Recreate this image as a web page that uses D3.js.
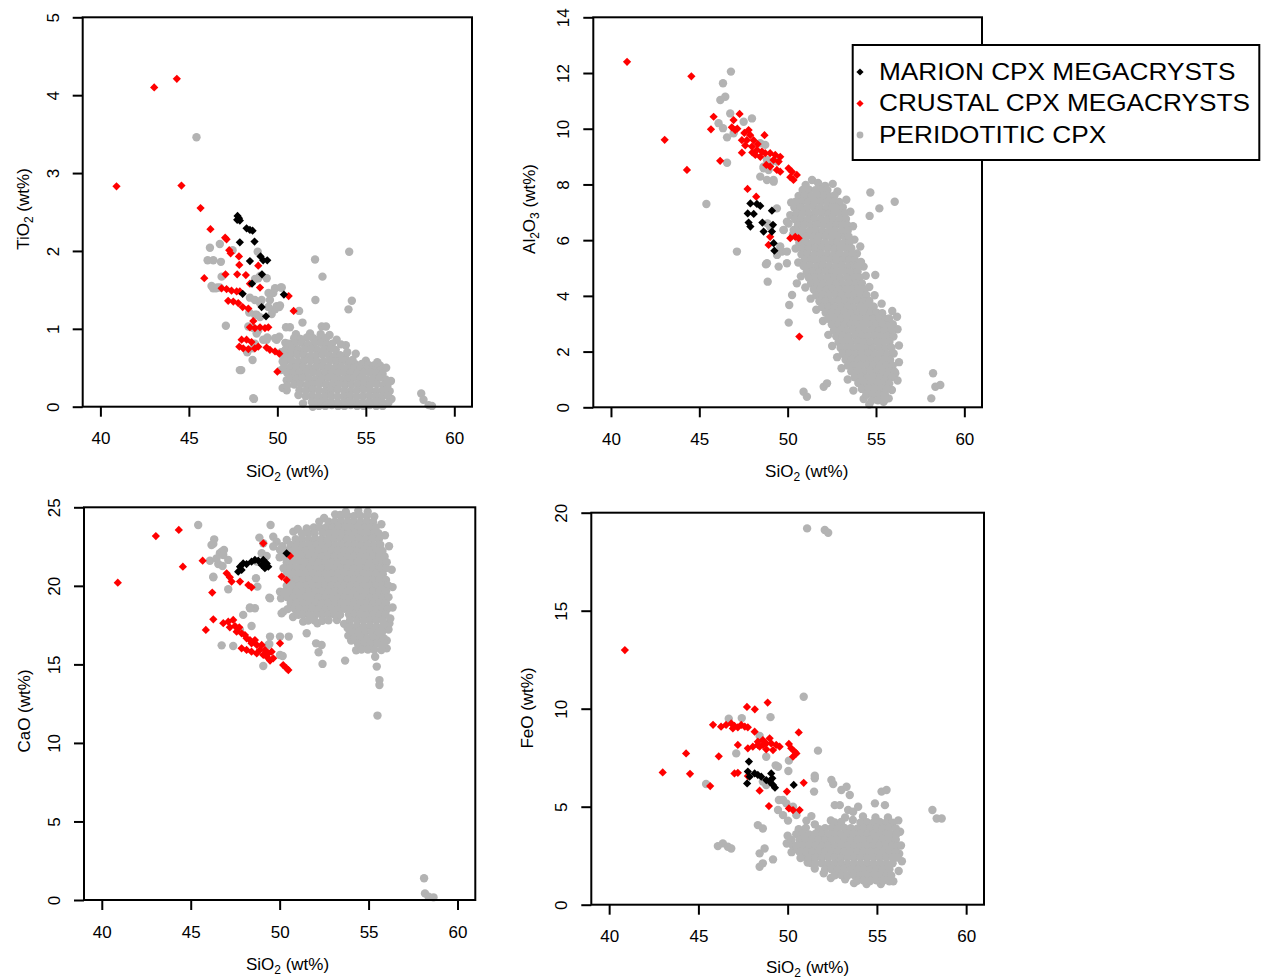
<!DOCTYPE html>
<html>
<head>
<meta charset="utf-8">
<script src="https://cdn.jsdelivr.net/npm/d3@7"></script>
<style>
  body { margin: 0; background: #fff; }
  svg { display: block; }
  text { font-family: "Liberation Sans", Arial, Helvetica, sans-serif; fill: #000; }
</style>
</head>
<body>
<svg id="chart" width="1263" height="979"></svg>
<script>
// ---- tick values ----
const sio2Ticks = [40, 45, 50, 55, 60];
const tiTicks = [0, 1, 2, 3, 4, 5];
const alTicks = [0, 2, 4, 6, 8, 10, 12, 14];
const caTicks = [0, 5, 10, 15, 20, 25];
const feTicks = [0, 5, 10, 15, 20];

// ---- axis titles (text, subscript flag) ----
const sio2Label = [["SiO", 0], ["2", 1], [" (wt%)", 0]];
const tiLabel = [["TiO", 0], ["2", 1], [" (wt%)", 0]];
const alLabel = [["Al", 0], ["2", 1], ["O", 0], ["3", 1], [" (wt%)", 0]];
const caLabel = [["CaO (wt%)", 0]];
const feLabel = [["FeO (wt%)", 0]];

// ---- legend ----
const seriesNames = ["MARION CPX MEGACRYSTS", "CRUSTAL CPX MEGACRYSTS", "PERIDOTITIC CPX"];

// ---- TiO2 vs SiO2 (wt%) ----
const tiMarion = [[47.75,2.45],[47.83,2.42],[47.73,2.40],[47.88,2.39],[48.26,2.29],[48.45,2.27],[48.60,2.26],[47.88,2.11],[48.71,2.12],[48.45,1.87],[49.05,1.93],[49.20,1.88],[49.43,1.88],[49.13,1.70],[48.57,1.58],[48.04,1.45],[50.37,1.44],[49.11,1.28],[49.36,1.16]];
const tiCrustal = [[40.91,2.83],[43.04,4.10],[44.32,4.21],[44.58,2.84],[45.66,2.55],[46.22,2.28],[45.87,1.65],[47.05,2.17],[47.13,2.15],[47.28,2.01],[47.36,1.97],[47.83,1.93],[47.85,1.82],[48.92,1.81],[47.07,1.70],[47.73,1.70],[48.22,1.69],[48.45,1.58],[49.02,1.53],[46.85,1.52],[47.13,1.51],[47.41,1.49],[47.70,1.48],[47.88,1.48],[47.22,1.36],[47.51,1.35],[47.79,1.33],[48.04,1.28],[48.36,1.26],[50.92,1.23],[50.64,1.42],[48.45,1.02],[48.73,1.01],[49.02,1.02],[49.30,1.01],[49.49,1.02],[48.64,1.10],[47.98,0.86],[48.26,0.86],[48.54,0.83],[47.85,0.77],[48.07,0.75],[48.36,0.74],[48.73,0.75],[48.92,0.77],[49.39,0.76],[49.58,0.73],[49.87,0.71],[50.11,0.68],[50.00,0.45]];
const tiPeridotitic = [
  [45.43,3.46],[46.19,2.04],[46.75,2.09],[46.06,1.88],[46.38,1.88],[46.81,1.86],[47.47,2.01],[46.28,1.55],[46.53,1.52],[46.75,1.53],[46.85,1.67],[47.09,1.04],[47.96,0.47],[48.68,0.10],[48.60,0.60],[48.30,0.70],[48.89,1.99],[48.92,1.65],[48.74,1.64],[49.40,1.65],[49.50,1.46],[49.77,1.46],[49.87,1.52],[50.25,1.53],[49.96,1.29],[50.15,1.30],[49.68,1.19],[48.83,1.18],[48.64,1.01],[48.92,0.98],[49.20,0.86],[49.40,0.86],[49.96,0.86],[51.23,1.23],[51.42,1.08],[52.13,1.89],[52.15,1.37],[52.55,1.67],[52.51,1.03],[52.75,1.03],[54.06,1.99],[54.02,1.25],[54.21,1.36],[53.87,0.79],[54.43,0.68],[58.13,0.17],[58.26,0.09],[58.55,0.02],[58.74,0.01],[50.30,0.24],[50.53,0.21],[50.53,0.34],[51.19,0.15],[48.64,0.11],[47.88,0.47],
  [46.37,1.52],[46.60,1.53],[48.41,1.21],[48.73,1.18],[49.02,1.15],[49.87,1.25],[50.11,1.28],[49.58,1.37],[49.49,1.28],[50.19,1.53],[48.83,0.94],[49.43,0.89],[49.87,0.88],[50.11,0.90],[48.73,0.81],[48.64,0.75],[48.30,0.71],[50.49,1.02],[50.71,1.02],[48.45,1.40],[48.73,1.37],[49.02,1.33],[49.11,1.37],[49.02,1.68],[48.36,1.03],[50.71,0.68],[50.53,0.64],[50.34,0.64],
  [53.60,0.80],[53.85,0.62],[50.30,0.58],[56.35,0.20],[55.80,0.53],[50.45,0.82],
  [51.05,0.93],[51.85,0.94],[52.45,0.93],[52.95,0.92],[53.35,0.86],[53.95,0.70],[54.25,0.60],[55.00,0.59],[55.65,0.57],[56.15,0.50],[56.42,0.33],[56.45,0.10],[50.22,0.70],[50.20,0.47],[50.55,0.27],[51.45,0.04],[52.00,0.00],
  [50.95,0.88],[51.31,0.87],[51.67,0.89],[52.03,0.88],[52.39,0.87],[52.75,0.88],
  [50.65,0.81],[51.01,0.81],[51.37,0.82],[51.73,0.80],[52.09,0.81],[52.45,0.82],[52.81,0.80],[53.10,0.81],
  [50.47,0.735],[50.83,0.74],[51.19,0.73],[51.55,0.735],[51.91,0.74],[52.27,0.73],[52.63,0.735],[52.99,0.74],[53.30,0.73],
  [50.40,0.66],[50.76,0.66],[51.12,0.67],[51.48,0.66],[51.84,0.65],[52.20,0.66],[52.56,0.67],[52.92,0.66],[53.28,0.65],[53.55,0.66],
  [50.45,0.585],[50.81,0.59],[51.17,0.58],[51.53,0.585],[51.89,0.59],[52.25,0.58],[52.61,0.585],[52.97,0.59],[53.33,0.58],[53.69,0.585],[54.05,0.55],[54.41,0.545],[54.77,0.55],[55.13,0.54],[55.45,0.53],
  [50.38,0.51],[50.74,0.51],[51.10,0.52],[51.46,0.51],[51.82,0.50],[52.18,0.51],[52.54,0.52],[52.90,0.51],[53.26,0.50],[53.62,0.51],[53.98,0.49],[54.34,0.50],[54.70,0.49],[55.06,0.48],[55.42,0.47],[55.78,0.46],
  [50.55,0.435],[50.91,0.44],[51.27,0.43],[51.63,0.435],[51.99,0.44],[52.35,0.43],[52.71,0.435],[53.07,0.44],[53.43,0.43],[53.79,0.435],[54.15,0.44],[54.51,0.43],[54.87,0.435],[55.23,0.44],[55.59,0.43],[55.95,0.42],
  [50.72,0.36],[51.08,0.36],[51.44,0.37],[51.80,0.36],[52.16,0.35],[52.52,0.36],[52.88,0.37],[53.24,0.36],[53.60,0.35],[53.96,0.36],[54.32,0.37],[54.68,0.36],[55.04,0.35],[55.40,0.36],[55.76,0.37],[56.12,0.35],
  [50.95,0.285],[51.31,0.29],[51.67,0.28],[52.03,0.285],[52.39,0.29],[52.75,0.28],[53.11,0.285],[53.47,0.29],[53.83,0.28],[54.19,0.285],[54.55,0.29],[54.91,0.28],[55.27,0.285],[55.63,0.29],[55.99,0.28],[56.22,0.27],
  [51.25,0.21],[51.61,0.21],[51.97,0.22],[52.33,0.21],[52.69,0.20],[53.05,0.21],[53.41,0.22],[53.77,0.21],[54.13,0.20],[54.49,0.21],[54.85,0.22],[55.21,0.21],[55.57,0.20],[55.93,0.21],[56.20,0.22],
  [51.60,0.135],[51.96,0.14],[52.32,0.13],[52.68,0.135],[53.04,0.14],[53.40,0.13],[53.76,0.135],[54.12,0.14],[54.48,0.13],[54.84,0.135],[55.20,0.14],[55.56,0.13],[55.92,0.135],[56.25,0.14],
  [51.95,0.06],[52.31,0.06],[52.67,0.07],[53.03,0.06],[53.39,0.05],[53.75,0.06],[54.11,0.07],[54.47,0.06],[54.83,0.05],[55.19,0.06],[55.55,0.07],[55.91,0.06],[56.28,0.05],
  [52.35,0.01],[52.71,0.01],[53.07,0.02],[53.43,0.01],[53.79,0.01],[54.15,0.02],[54.51,0.01],[54.87,0.01],[55.23,0.02],[55.59,0.01],[55.95,0.01]
];

// ---- Al2O3 vs SiO2 (wt%) ----
const alMarion = [[47.89,7.32],[48.26,7.30],[48.45,7.23],[47.74,6.96],[48.08,6.94],[49.11,7.06],[47.79,6.63],[47.89,6.49],[48.57,6.63],[48.64,6.31],[49.11,6.31],[49.17,6.55],[49.21,5.89],[49.25,5.62]];
const alCrustal = [[40.91,12.40],[44.55,11.88],[43.04,9.60],[44.30,8.52],[45.81,10.43],[45.66,9.98],[46.18,8.85],[46.94,10.31],[47.28,10.53],[46.84,10.05],[47.03,9.95],[47.41,9.14],[47.79,9.95],[47.88,9.77],[48.07,9.59],[47.69,9.59],[47.41,9.59],[47.98,9.36],[48.26,9.24],[48.54,9.18],[48.17,9.06],[48.45,8.99],[48.73,9.12],[48.69,9.77],[49.01,9.12],[49.30,9.06],[49.58,8.99],[49.20,8.88],[49.49,8.82],[49.39,8.52],[49.58,8.46],[48.79,8.70],[49.01,8.64],[50.05,8.58],[50.24,8.46],[50.52,8.34],[50.33,8.16],[50.15,8.26],[47.15,10.00],[47.55,9.85],[47.60,9.40],[48.30,9.45],[48.00,9.15],[47.73,7.84],[48.22,7.56],[49.01,6.12],[48.92,5.83],[50.15,6.07],[50.43,6.12],[50.62,6.07],[50.66,2.54]];
const alPeridotitic = [
  [46.79,12.05],[46.34,11.63],[46.47,11.15],[46.19,11.03],[46.75,10.55],[46.09,10.20],[46.34,10.02],[46.57,9.69],[46.94,9.84],[47.51,10.25],[47.98,10.37],[46.57,8.78],[45.40,7.30],[47.13,5.59],[48.77,5.13],[48.87,4.51],[48.45,8.28],[48.83,8.16],[49.21,8.10],[48.64,8.64],[49.02,8.76],[49.49,5.05],[49.40,5.47],[49.68,5.59],[49.96,5.17],[50.09,3.67],[50.06,3.04],[50.25,4.03],[50.90,0.56],[51.09,0.38],[52.04,0.74],[52.23,0.86],[58.23,1.22],[58.13,0.32],[58.36,0.74],[58.64,0.80],[54.68,7.71],[55.19,7.14],[56.06,7.38],[54.64,6.87],[54.96,4.75],[56.19,3.25],[55.43,0.20],[49.96,6.66],[50.34,6.37],[49.77,6.37],[51.38,8.16],[52.55,8.02],[54.11,5.77],[54.30,5.05],[54.87,3.61],[56.09,1.22],
  [48.45,9.48],[48.73,9.42],[49.39,8.82],[48.83,8.88],[48.64,8.58],[48.92,8.52],[49.20,8.16],[49.39,7.14],[48.86,6.60],[49.01,6.48],[49.77,6.36],[50.05,6.60],[49.58,5.77],[49.96,5.59],[48.83,5.17],[50.52,4.45],
  [51.02,7.98],[51.72,8.05],[52.12,7.95],[52.82,7.75],[53.32,7.45],[53.55,7.02],[53.70,6.50],[53.78,6.02],[53.92,5.52],[54.15,5.22],[54.42,4.72],[54.62,4.32],[54.92,4.02],[55.32,3.72],[55.92,3.46],[56.22,2.80],[56.30,2.22],[56.30,1.62],[56.22,0.96],[55.90,0.62],[55.72,0.32],[50.20,7.35],[50.15,6.90],[50.30,6.20],[50.45,5.70],[50.60,5.20],[50.75,4.70],[51.00,4.30],[51.30,3.90],[51.62,3.50],[52.00,3.10],[52.30,2.60],[52.52,2.20],[52.80,1.80],[53.05,1.40],[53.40,1.00],[53.72,0.60],[54.30,0.30],[54.62,0.10],
  [50.85,7.80],[51.21,7.81],[51.57,7.79],[51.93,7.82],[52.25,7.80],
  [50.62,7.59],[50.98,7.60],[51.34,7.58],[51.70,7.61],[52.06,7.59],[52.42,7.57],[52.65,7.60],
  [50.45,7.38],[50.81,7.39],[51.17,7.37],[51.53,7.40],[51.89,7.38],[52.25,7.36],[52.61,7.39],[52.92,7.37],
  [50.38,7.17],[50.74,7.18],[51.10,7.16],[51.46,7.19],[51.82,7.17],[52.18,7.15],[52.54,7.18],[52.90,7.16],[53.12,7.18],
  [50.50,6.96],[50.86,6.97],[51.22,6.95],[51.58,6.98],[51.94,6.96],[52.30,6.94],[52.66,6.97],[53.02,6.95],[53.25,6.97],
  [50.42,6.75],[50.78,6.76],[51.14,6.74],[51.50,6.77],[51.86,6.75],[52.22,6.73],[52.58,6.76],[52.94,6.74],[53.30,6.76],
  [50.58,6.54],[50.94,6.55],[51.30,6.53],[51.66,6.56],[52.02,6.54],[52.38,6.52],[52.74,6.55],[53.10,6.53],[53.36,6.55],
  [50.52,6.33],[50.88,6.34],[51.24,6.32],[51.60,6.35],[51.96,6.33],[52.32,6.31],[52.68,6.34],[53.04,6.32],[53.40,6.34],
  [50.72,6.12],[51.08,6.13],[51.44,6.11],[51.80,6.14],[52.16,6.12],[52.52,6.10],[52.88,6.13],[53.24,6.11],[53.45,6.13],
  [50.66,5.91],[51.02,5.92],[51.38,5.90],[51.74,5.93],[52.10,5.91],[52.46,5.89],[52.82,5.92],[53.18,5.90],[53.50,5.92],
  [50.84,5.70],[51.20,5.71],[51.56,5.69],[51.92,5.72],[52.28,5.70],[52.64,5.68],[53.00,5.71],[53.36,5.69],[53.60,5.71],
  [50.78,5.49],[51.14,5.50],[51.50,5.48],[51.86,5.51],[52.22,5.49],[52.58,5.47],[52.94,5.50],[53.30,5.48],[53.66,5.50],
  [50.96,5.28],[51.32,5.29],[51.68,5.27],[52.04,5.30],[52.40,5.28],[52.76,5.26],[53.12,5.29],[53.48,5.27],[53.80,5.29],
  [50.90,5.07],[51.26,5.08],[51.62,5.06],[51.98,5.09],[52.34,5.07],[52.70,5.05],[53.06,5.08],[53.42,5.06],[53.78,5.08],[53.95,5.06],
  [51.08,4.86],[51.44,4.87],[51.80,4.85],[52.16,4.88],[52.52,4.86],[52.88,4.84],[53.24,4.87],[53.60,4.85],[53.96,4.87],
  [51.20,4.65],[51.56,4.66],[51.92,4.64],[52.28,4.67],[52.64,4.65],[53.00,4.63],[53.36,4.66],[53.72,4.64],[54.08,4.66],
  [51.32,4.44],[51.68,4.45],[52.04,4.43],[52.40,4.46],[52.76,4.44],[53.12,4.42],[53.48,4.45],[53.84,4.43],[54.20,4.45],
  [51.48,4.23],[51.84,4.24],[52.20,4.22],[52.56,4.25],[52.92,4.23],[53.28,4.21],[53.64,4.24],[54.00,4.22],[54.32,4.24],
  [51.62,4.02],[51.98,4.03],[52.34,4.01],[52.70,4.04],[53.06,4.02],[53.42,4.00],[53.78,4.03],[54.14,4.01],[54.45,4.03],
  [51.80,3.81],[52.16,3.82],[52.52,3.80],[52.88,3.83],[53.24,3.81],[53.60,3.79],[53.96,3.82],[54.32,3.80],[54.62,3.82],
  [51.95,3.60],[52.31,3.61],[52.67,3.59],[53.03,3.62],[53.39,3.60],[53.75,3.58],[54.11,3.61],[54.47,3.59],[54.83,3.61],
  [52.15,3.39],[52.51,3.40],[52.87,3.38],[53.23,3.41],[53.59,3.39],[53.95,3.37],[54.31,3.40],[54.67,3.38],[55.03,3.40],[55.35,3.38],
  [52.30,3.18],[52.66,3.19],[53.02,3.17],[53.38,3.20],[53.74,3.18],[54.10,3.16],[54.46,3.19],[54.82,3.17],[55.18,3.19],[55.54,3.17],[55.75,3.19],
  [52.50,2.97],[52.86,2.98],[53.22,2.96],[53.58,2.99],[53.94,2.97],[54.30,2.95],[54.66,2.98],[55.02,2.96],[55.38,2.98],[55.74,2.96],[55.95,2.98],
  [52.62,2.76],[52.98,2.77],[53.34,2.75],[53.70,2.78],[54.06,2.76],[54.42,2.74],[54.78,2.77],[55.14,2.75],[55.50,2.77],[55.86,2.75],
  [52.75,2.55],[53.11,2.56],[53.47,2.54],[53.83,2.57],[54.19,2.55],[54.55,2.53],[54.91,2.56],[55.27,2.54],[55.63,2.56],[55.99,2.54],
  [52.88,2.34],[53.24,2.35],[53.60,2.33],[53.96,2.36],[54.32,2.34],[54.68,2.32],[55.04,2.35],[55.40,2.33],[55.76,2.35],
  [53.00,2.13],[53.36,2.14],[53.72,2.12],[54.08,2.15],[54.44,2.13],[54.80,2.11],[55.16,2.14],[55.52,2.12],[55.88,2.14],
  [53.12,1.92],[53.48,1.93],[53.84,1.91],[54.20,1.94],[54.56,1.92],[54.92,1.90],[55.28,1.93],[55.64,1.91],[56.00,1.93],
  [53.28,1.71],[53.64,1.72],[54.00,1.70],[54.36,1.73],[54.72,1.71],[55.08,1.69],[55.44,1.72],[55.80,1.70],
  [53.42,1.50],[53.78,1.51],[54.14,1.49],[54.50,1.52],[54.86,1.50],[55.22,1.48],[55.58,1.51],[55.94,1.49],
  [53.60,1.29],[53.96,1.30],[54.32,1.28],[54.68,1.31],[55.04,1.29],[55.40,1.27],[55.76,1.30],[56.05,1.28],
  [53.80,1.08],[54.16,1.09],[54.52,1.07],[54.88,1.10],[55.24,1.08],[55.60,1.06],[55.90,1.09],
  [54.00,0.87],[54.36,0.88],[54.72,0.86],[55.08,0.89],[55.44,0.87],[55.75,0.85],
  [54.20,0.66],[54.56,0.67],[54.92,0.65],[55.28,0.68],[55.60,0.66],
  [54.45,0.45],[54.81,0.46],[55.17,0.44],[55.50,0.47],
  [54.75,0.24],[55.11,0.25],[55.45,0.23]
];

// ---- CaO vs SiO2 (wt%) ----
const caMarion = [[47.67,20.90],[47.77,21.22],[47.95,21.43],[48.14,21.39],[48.42,21.54],[48.61,21.65],[48.80,21.60],[49.08,21.65],[49.27,21.43],[49.36,21.22],[49.17,21.12],[48.99,21.33],[47.86,21.01],[50.39,22.07]];
const caCrustal = [[40.90,20.20],[43.04,23.17],[44.33,23.56],[44.56,21.22],[45.67,21.60],[46.21,19.57],[45.85,17.19],[46.27,17.87],[47.02,20.80],[47.20,20.54],[47.30,20.27],[47.77,20.27],[48.24,20.05],[48.42,19.91],[49.08,22.71],[50.11,20.59],[50.39,20.37],[50.58,21.90],[46.83,17.62],[47.11,17.72],[47.39,17.83],[47.20,17.36],[47.49,17.44],[47.73,17.36],[47.58,17.08],[47.86,16.98],[48.05,16.87],[48.14,16.66],[48.33,16.55],[48.61,16.55],[48.42,16.34],[48.71,16.24],[48.99,16.24],[48.89,15.92],[49.17,15.92],[49.36,15.70],[49.55,15.81],[49.27,15.49],[49.64,15.39],[47.86,16.02],[48.14,15.92],[48.42,15.81],[48.71,15.70],[49.08,15.60],[49.46,15.24],[50.02,16.34],[50.20,14.96],[50.39,14.75],[50.49,14.64]];
const caPeridotitic = [
  [45.42,23.87],[46.32,22.96],[46.17,22.60],[46.64,22.07],[46.87,22.28],[46.08,21.60],[46.55,21.39],[46.79,21.26],[47.11,21.65],[46.27,20.54],[47.11,19.78],[47.95,18.15],[48.33,18.63],[48.61,18.57],[48.42,17.44],[46.74,16.21],[47.39,16.17],[49.08,14.90],[49.42,16.30],[48.67,20.48],[48.75,19.95],[48.86,23.07],[49.49,23.87],[49.64,23.13],[49.83,22.81],[50.11,22.28],[50.08,19.21],[50.11,18.25],[49.42,19.25],[50.17,15.53],[50.51,16.77],[51.52,16.98],[52.05,16.34],[52.36,16.23],[52.19,15.77],[52.41,15.03],[53.68,15.24],[53.86,16.83],[55.46,14.86],[55.37,15.49],[55.61,14.00],[55.61,13.69],[55.50,11.74],[58.12,1.38],[58.17,0.42],[58.37,0.21],[58.65,0.17],[54.95,24.72],[53.40,24.51],[52.23,24.09],[51.52,23.66],[50.77,23.45],[56.17,17.61],[56.02,16.02],
  [46.27,22.67],[46.74,22.18],[46.45,21.75],[46.83,21.96],[48.71,21.54],[48.99,22.07],[49.27,21.90],[49.08,22.71],[49.64,22.50],[50.02,22.28],[46.27,20.58],[49.46,19.21],[48.33,18.57],[50.21,18.36],[47.77,17.19],[49.46,16.77],[50.02,16.77],[49.36,16.24],[50.02,15.60],
  [51.02,23.62],[51.92,23.72],[52.50,24.32],[53.12,24.55],[53.72,24.72],[54.42,24.78],[55.32,24.42],[55.72,23.92],[55.92,23.22],[56.15,22.52],[56.30,21.02],[56.35,19.92],[56.35,18.62],[56.22,17.92],[56.12,17.22],[56.02,16.52],[55.72,15.92],[54.30,15.90],[54.02,16.52],[53.82,17.32],[53.62,17.58],[53.22,17.82],[52.12,17.62],[51.32,17.72],[50.75,18.02],[50.45,18.52],[50.02,19.62],[50.00,21.82],[50.15,22.52],[50.40,22.92],
  [53.45,24.45],[53.81,24.46],[54.17,24.44],[54.53,24.47],[54.89,24.45],
  [52.75,24.08],[53.11,24.09],[53.47,24.07],[53.83,24.10],[54.19,24.08],[54.55,24.06],[54.91,24.09],[55.25,24.07],
  [52.25,23.71],[52.61,23.72],[52.97,23.70],[53.33,23.73],[53.69,23.71],[54.05,23.69],[54.41,23.72],[54.77,23.70],[55.13,23.72],[55.40,23.70],
  [51.25,23.34],[51.61,23.35],[51.97,23.33],[52.43,23.36],[52.79,23.34],[53.15,23.32],[53.51,23.35],[53.87,23.33],[54.23,23.35],[54.59,23.33],[54.95,23.35],[55.31,23.33],[55.55,23.35],
  [50.90,22.97],[51.26,22.98],[51.62,22.96],[51.98,22.99],[52.34,22.97],[52.70,22.95],[53.06,22.98],[53.42,22.96],[53.78,22.98],[54.14,22.96],[54.50,22.98],[54.86,22.96],[55.22,22.98],[55.58,22.96],
  [50.62,22.60],[50.98,22.61],[51.34,22.59],[51.70,22.62],[52.06,22.60],[52.42,22.58],[52.78,22.61],[53.14,22.59],[53.50,22.61],[53.86,22.59],[54.22,22.61],[54.58,22.59],[54.94,22.61],[55.30,22.59],[55.66,22.61],
  [50.40,22.23],[50.76,22.24],[51.12,22.22],[51.48,22.25],[51.84,22.23],[52.20,22.21],[52.56,22.24],[52.92,22.22],[53.28,22.24],[53.64,22.22],[54.00,22.24],[54.36,22.22],[54.72,22.24],[55.08,22.22],[55.44,22.24],[55.78,22.22],
  [50.22,21.86],[50.58,21.87],[50.94,21.85],[51.30,21.88],[51.66,21.86],[52.02,21.84],[52.38,21.87],[52.74,21.85],[53.10,21.87],[53.46,21.85],[53.82,21.87],[54.18,21.85],[54.54,21.87],[54.90,21.85],[55.26,21.87],[55.62,21.85],[55.90,21.87],
  [50.40,21.49],[50.76,21.50],[51.12,21.48],[51.48,21.51],[51.84,21.49],[52.20,21.47],[52.56,21.50],[52.92,21.48],[53.28,21.50],[53.64,21.48],[54.00,21.50],[54.36,21.48],[54.72,21.50],[55.08,21.48],[55.44,21.50],[55.80,21.48],[56.02,21.50],
  [50.22,21.12],[50.58,21.13],[50.94,21.11],[51.30,21.14],[51.66,21.12],[52.02,21.10],[52.38,21.13],[52.74,21.11],[53.10,21.13],[53.46,21.11],[53.82,21.13],[54.18,21.11],[54.54,21.13],[54.90,21.11],[55.26,21.13],[55.62,21.11],[55.98,21.13],
  [50.40,20.75],[50.76,20.76],[51.12,20.74],[51.48,20.77],[51.84,20.75],[52.20,20.73],[52.56,20.76],[52.92,20.74],[53.28,20.76],[53.64,20.74],[54.00,20.76],[54.36,20.74],[54.72,20.76],[55.08,20.74],[55.44,20.76],[55.80,20.74],
  [50.58,20.38],[50.94,20.39],[51.30,20.37],[51.66,20.40],[52.02,20.38],[52.38,20.36],[52.74,20.39],[53.10,20.37],[53.46,20.39],[53.82,20.37],[54.18,20.39],[54.54,20.37],[54.90,20.39],[55.26,20.37],[55.62,20.39],[55.98,20.37],
  [50.40,20.01],[50.76,20.02],[51.12,20.00],[51.48,20.03],[51.84,20.01],[52.20,19.99],[52.56,20.02],[52.92,20.00],[53.28,20.02],[53.64,20.00],[54.00,20.02],[54.36,20.00],[54.72,20.02],[55.08,20.00],[55.44,20.02],[55.80,20.00],[56.10,20.02],
  [50.30,19.64],[50.58,19.65],[50.94,19.63],[51.30,19.66],[51.66,19.64],[52.02,19.62],[52.38,19.65],[52.74,19.63],[53.10,19.65],[53.46,19.63],[53.82,19.65],[54.18,19.63],[54.54,19.65],[54.90,19.63],[55.26,19.65],[55.62,19.63],[55.98,19.65],
  [50.45,19.27],[50.76,19.28],[51.12,19.26],[51.48,19.29],[51.84,19.27],[52.20,19.25],[52.56,19.28],[52.92,19.26],[53.28,19.28],[53.64,19.26],[54.00,19.28],[54.36,19.26],[54.72,19.28],[55.08,19.26],[55.44,19.28],[55.80,19.26],[56.12,19.28],
  [50.62,18.90],[50.94,18.91],[51.30,18.89],[51.66,18.92],[52.02,18.90],[52.38,18.88],[52.74,18.91],[53.10,18.89],[53.46,18.91],[53.82,18.89],[54.18,18.91],[54.54,18.89],[54.90,18.91],[55.26,18.89],[55.62,18.91],[55.98,18.89],
  [50.85,18.53],[51.12,18.54],[51.48,18.52],[51.84,18.55],[52.20,18.53],[52.56,18.51],[52.92,18.54],[53.28,18.52],[53.64,18.54],[54.00,18.52],[54.36,18.54],[54.72,18.52],[55.08,18.54],[55.44,18.52],[55.80,18.54],[56.05,18.52],
  [51.05,18.16],[51.30,18.17],[51.66,18.15],[52.02,18.18],[52.38,18.16],[52.74,18.14],[53.10,18.17],[53.40,18.15],[53.90,18.17],[54.18,18.15],[54.54,18.17],[54.90,18.15],[55.26,18.17],[55.62,18.15],[55.95,18.17],
  [51.60,17.79],[51.95,17.80],[52.40,17.78],[52.75,17.81],[53.95,17.79],[54.36,17.77],[54.72,17.80],[55.08,17.78],[55.44,17.80],[55.80,17.78],
  [54.00,17.42],[54.36,17.43],[54.72,17.41],[55.08,17.44],[55.44,17.42],[55.80,17.40],
  [54.10,17.05],[54.46,17.06],[54.82,17.04],[55.18,17.07],[55.54,17.05],[55.75,17.03],
  [54.20,16.68],[54.56,16.69],[54.92,16.67],[55.28,16.70],[55.64,16.68],[55.85,16.66],
  [54.40,16.31],[54.76,16.32],[55.12,16.30],[55.48,16.33],[55.85,16.31],
  [54.60,15.94],[54.96,15.95],[55.32,15.93]
];

// ---- FeO vs SiO2 (wt%) ----
const feMarion = [[47.83,7.30],[47.77,6.79],[47.87,6.53],[47.73,6.19],[48.15,6.70],[48.33,6.62],[48.52,6.53],[48.80,6.36],[48.99,6.28],[49.08,6.70],[49.14,6.45],[49.18,6.11],[49.29,5.97],[50.34,6.11]];
const feCrustal = [[40.88,12.99],[43.00,6.75],[44.31,7.72],[44.53,6.68],[45.66,6.05],[45.82,9.18],[46.27,9.08],[46.14,7.57],[47.72,10.09],[48.16,9.97],[48.88,10.31],[46.55,9.17],[46.84,9.25],[47.02,9.12],[47.21,9.05],[47.40,9.17],[47.60,9.08],[47.77,9.05],[46.93,8.99],[48.15,8.83],[47.77,7.98],[48.05,8.06],[48.33,8.15],[48.61,8.15],[48.80,8.23],[49.08,8.23],[49.36,8.15],[49.55,8.06],[48.99,8.49],[48.61,8.40],[48.33,8.32],[49.18,7.89],[48.80,7.93],[48.43,8.06],[50.07,8.20],[50.20,7.98],[50.39,7.81],[50.30,7.55],[50.49,7.72],[50.62,8.79],[47.21,8.15],[47.02,6.70],[47.21,6.73],[47.77,6.56],[48.43,5.82],[48.95,5.03],[49.96,5.77],[50.07,4.91],[50.30,4.83],[50.67,4.83],[50.90,6.22]];
const fePeridotitic = [
  [51.09,19.20],[52.08,19.12],[52.27,18.98],[50.90,10.61],[46.70,9.49],[47.43,9.52],[49.04,9.57],[47.12,7.72],[48.80,7.55],[48.43,8.61],[51.70,7.86],[49.33,7.11],[49.46,7.04],[50.07,7.35],[50.04,6.82],[51.52,6.58],[51.52,6.45],[51.48,5.77],[52.45,6.36],[52.55,6.16],[45.43,6.16],[48.61,6.28],[48.80,6.11],[49.51,5.34],[49.74,5.34],[49.93,5.17],[49.46,4.83],[49.74,4.57],[50.30,5.00],[50.49,4.57],[50.02,4.29],[51.05,4.29],[51.33,4.52],[46.09,2.99],[46.37,3.13],[46.65,2.96],[46.84,2.87],[48.33,4.06],[48.61,3.89],[48.43,2.62],[48.71,2.87],[48.43,1.94],[48.61,2.11],[49.18,2.31],[58.11,4.83],[58.35,4.40],[58.63,4.40],[54.89,5.17],[55.45,5.08],[55.26,5.77],[55.54,5.85],[53.01,5.85],[53.30,6.02],[53.48,5.60],[52.64,5.08],[52.92,5.08],[53.39,4.83],[53.67,4.74],[53.95,5.00],
  [50.45,2.85],[50.95,2.45],[51.30,2.12],[51.75,3.85],[53.65,4.32],[56.25,2.60],
  [50.00,3.52],[49.95,3.12],[50.22,2.68],[50.72,2.38],[51.12,2.15],[51.52,1.85],[52.02,1.60],[52.42,1.36],[53.22,1.30],[53.72,1.10],[54.42,1.05],[55.22,1.05],[55.92,1.20],[56.22,1.72],[56.40,2.22],[56.35,3.02],[56.30,3.72],[56.20,4.30],[55.62,4.45],[54.92,4.45],[54.22,4.50],[53.22,4.45],[52.42,4.30],[51.52,4.10],[51.02,3.92],[50.62,3.85],
  [52.64,4.20],[53.00,4.22],[54.08,4.19],[54.44,4.21],[54.80,4.18],[55.16,4.22],[55.52,4.20],[55.88,4.19],
  [52.10,3.90],[52.46,3.91],[52.82,3.89],[53.18,3.92],[53.54,3.90],[53.90,3.88],[54.26,3.91],[54.62,3.89],[54.98,3.91],[55.34,3.89],[55.70,3.91],[56.06,3.89],
  [50.48,3.60],[50.84,3.61],[51.20,3.59],[51.56,3.62],[51.92,3.60],[52.28,3.58],[52.64,3.61],[53.00,3.59],[53.36,3.61],[53.72,3.59],[54.08,3.61],[54.44,3.59],[54.80,3.61],[55.16,3.59],[55.52,3.61],[55.88,3.59],[56.10,3.61],
  [50.20,3.30],[50.66,3.31],[51.02,3.29],[51.38,3.32],[51.74,3.30],[52.10,3.28],[52.46,3.31],[52.82,3.29],[53.18,3.31],[53.54,3.29],[53.90,3.31],[54.26,3.29],[54.62,3.31],[54.98,3.29],[55.34,3.31],[55.70,3.29],[56.06,3.31],
  [50.30,3.00],[50.48,3.01],[50.84,2.99],[51.20,3.02],[51.56,3.00],[51.92,2.98],[52.28,3.01],[52.64,2.99],[53.00,3.01],[53.36,2.99],[53.72,3.01],[54.08,2.99],[54.44,3.01],[54.80,2.99],[55.16,3.01],[55.52,2.99],[55.88,3.01],[56.15,2.99],
  [50.66,2.70],[51.02,2.71],[51.38,2.69],[51.74,2.72],[52.10,2.70],[52.46,2.68],[52.82,2.71],[53.18,2.69],[53.54,2.71],[53.90,2.69],[54.26,2.71],[54.62,2.69],[54.98,2.71],[55.34,2.69],[55.70,2.71],[56.06,2.69],
  [51.20,2.40],[51.56,2.41],[51.92,2.39],[52.28,2.42],[52.64,2.40],[53.00,2.38],[53.36,2.41],[53.72,2.39],[54.08,2.41],[54.44,2.39],[54.80,2.41],[55.16,2.39],[55.52,2.41],[55.88,2.39],[56.12,2.41],
  [51.56,2.10],[51.92,2.11],[52.28,2.09],[52.64,2.12],[53.00,2.10],[53.36,2.08],[53.72,2.11],[54.08,2.09],[54.44,2.11],[54.80,2.09],[55.16,2.11],[55.52,2.09],[55.88,2.11],
  [52.10,1.80],[52.46,1.81],[52.82,1.79],[53.18,1.82],[53.54,1.80],[53.90,1.78],[54.26,1.81],[54.62,1.79],[54.98,1.81],[55.34,1.79],[55.70,1.81],
  [52.64,1.50],[53.00,1.51],[53.36,1.49],[53.72,1.52],[54.08,1.50],[54.44,1.48],[54.80,1.51],[55.16,1.49],[55.52,1.51],[55.80,1.49],
  [53.90,1.22],[54.26,1.23],[54.62,1.21],[54.98,1.24],[55.34,1.22],[55.70,1.20]
];

// ---- panel layout (pixel frame of each plotting box) ----
const panels = [
  { box: { l: 82.7, r: 472.0, t: 17.3, b: 406.7 }, yMax: 5, yTicks: tiTicks, yLabel: tiLabel,
    marion: tiMarion, crustal: tiCrustal, peridotitic: tiPeridotitic,
    xTitle: { x: 287.5, y: 476.5 }, yTitle: { x: 28.5, y: 209 } },
  { box: { l: 593.3, r: 982.0, t: 17.3, b: 407.3 }, yMax: 14, yTicks: alTicks, yLabel: alLabel,
    marion: alMarion, crustal: alCrustal, peridotitic: alPeridotitic,
    xTitle: { x: 806.7, y: 477 }, yTitle: { x: 534.5, y: 209 } },
  { box: { l: 84.0, r: 475.3, t: 507.3, b: 900.0 }, yMax: 25, yTicks: caTicks, yLabel: caLabel,
    marion: caMarion, crustal: caCrustal, peridotitic: caPeridotitic,
    xTitle: { x: 287.5, y: 970 }, yTitle: { x: 29.5, y: 711 } },
  { box: { l: 591.3, r: 984.0, t: 512.7, b: 904.7 }, yMax: 20, yTicks: feTicks, yLabel: feLabel,
    marion: feMarion, crustal: feCrustal, peridotitic: fePeridotitic,
    xTitle: { x: 807.5, y: 973.3 }, yTitle: { x: 533, y: 708 } }
];

const COLORS = { marion: "#000000", crustal: "#ff0000", peridotitic: "#b3b3b3" };
const FONT = 17;
const SUB_FONT = 12;

const svg = d3.select("#chart");
svg.append("rect").attr("width", 1263).attr("height", 979).attr("fill", "#fff");

const diamond = d3.symbol().type(d3.symbolSquare).size(34);

// writes a label with subscripts into a text element
function writeLabel(textSel, parts) {
  let shifted = false;
  parts.forEach(([str, isSub]) => {
    const ts = textSel.append("tspan").text(str);
    if (isSub && !shifted) { ts.attr("font-size", SUB_FONT).attr("dy", 4); shifted = true; }
    else if (isSub) { ts.attr("font-size", SUB_FONT); }
    else if (shifted) { ts.attr("dy", -4); shifted = false; }
  });
}

panels.forEach(p => {
  const g = svg.append("g");
  const x = d3.scaleLinear().domain([39, 61]).range([p.box.l, p.box.r]);
  const y = d3.scaleLinear().domain([0, p.yMax]).range([p.box.b, p.box.t]);

  // peridotitic cpx (grey dots)
  g.append("g").selectAll("circle").data(p.peridotitic).join("circle")
    .attr("cx", d => x(d[0])).attr("cy", d => y(d[1])).attr("r", 4.2)
    .attr("fill", COLORS.peridotitic);

  // crustal megacrysts (red diamonds)
  g.append("g").selectAll("path").data(p.crustal).join("path")
    .attr("d", diamond)
    .attr("transform", d => `translate(${x(d[0])},${y(d[1])}) rotate(45)`)
    .attr("fill", COLORS.crustal);

  // Marion megacrysts (black diamonds)
  g.append("g").selectAll("path").data(p.marion).join("path")
    .attr("d", diamond)
    .attr("transform", d => `translate(${x(d[0])},${y(d[1])}) rotate(45)`)
    .attr("fill", COLORS.marion);

  // axes
  const xAxis = d3.axisBottom(x).tickValues(sio2Ticks).tickSize(10).tickSizeOuter(0).tickFormat(d3.format("d"));
  const gx = g.append("g").attr("transform", `translate(0,${p.box.b})`).call(xAxis);
  gx.select(".domain").remove();
  gx.selectAll("line").attr("stroke", "#000").attr("stroke-width", 2);
  gx.selectAll("text").attr("font-size", FONT).attr("font-family", null)
    .attr("y", 37.6).attr("dy", null).attr("fill", "#1a1a1a");

  const yAxis = d3.axisLeft(y).tickValues(p.yTicks).tickSize(10).tickSizeOuter(0).tickFormat(d3.format("d"));
  const gy = g.append("g").attr("transform", `translate(${p.box.l},0)`).call(yAxis);
  gy.select(".domain").remove();
  gy.selectAll("line").attr("stroke", "#000").attr("stroke-width", 2);
  gy.selectAll("text").attr("font-size", FONT).attr("font-family", null)
    .attr("x", null).attr("dy", null).attr("text-anchor", "middle")
    .attr("transform", "translate(-24,0) rotate(-90)").attr("fill", "#1a1a1a");

  // plotting box
  g.append("rect")
    .attr("x", p.box.l).attr("y", p.box.t)
    .attr("width", p.box.r - p.box.l).attr("height", p.box.b - p.box.t)
    .attr("fill", "none").attr("stroke", "#000").attr("stroke-width", 2);

  // axis titles
  const xt = g.append("text").attr("x", p.xTitle.x).attr("y", p.xTitle.y)
    .attr("text-anchor", "middle").attr("font-size", FONT).attr("fill", "#1a1a1a");
  writeLabel(xt, sio2Label);
  const yt = g.append("text")
    .attr("transform", `translate(${p.yTitle.x},${p.yTitle.y}) rotate(-90)`)
    .attr("text-anchor", "middle").attr("font-size", FONT).attr("fill", "#1a1a1a");
  writeLabel(yt, p.yLabel);
});

// legend, drawn over the Al2O3 panel
const legend = svg.append("g");
legend.append("rect").attr("x", 852.7).attr("y", 45).attr("width", 406.6).attr("height", 115)
  .attr("fill", "#fff").attr("stroke", "#000").attr("stroke-width", 2);
const legendKeys = ["marion", "crustal", "peridotitic"];
const legendY = d3.scalePoint().domain(legendKeys).range([72, 135]);
legendKeys.forEach((k, i) => {
  const cy = legendY(k);
  if (k === "peridotitic") {
    legend.append("circle").attr("cx", 860).attr("cy", cy).attr("r", 3.4).attr("fill", COLORS[k]);
  } else {
    legend.append("path").attr("d", d3.symbol().type(d3.symbolSquare).size(26))
      .attr("transform", `translate(860,${cy}) rotate(45)`).attr("fill", COLORS[k]);
  }
  legend.append("text")
    .attr("transform", `translate(879,${cy + 7.5}) scale(1.14,1)`)
    .attr("font-size", 23).attr("fill", "#000").text(seriesNames[i]);
});
</script>
</body>
</html>
